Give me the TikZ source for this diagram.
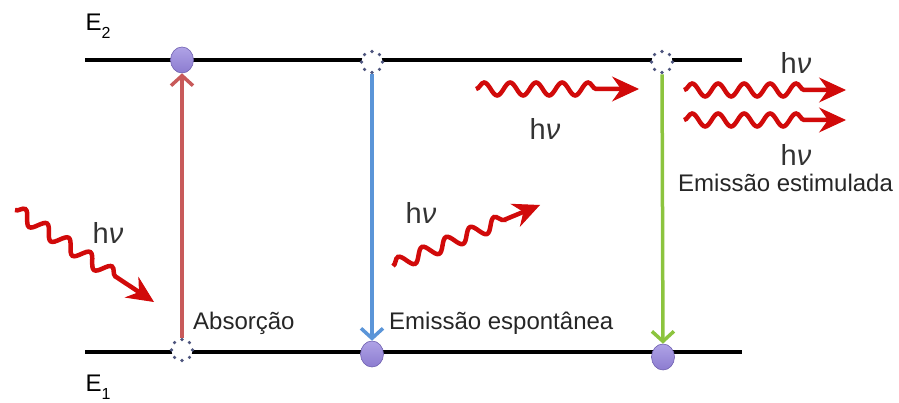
\documentclass[tikz,border=0pt]{standalone}
\usepackage{fontspec}
\setmainfont{Liberation Sans}
\usetikzlibrary{arrows.meta,decorations.pathmorphing,shapes.geometric,calc}
\definecolor{wavered}{HTML}{D10A0A}
\definecolor{absred}{HTML}{C85A5A}
\definecolor{spblue}{HTML}{5B95D8}
\definecolor{stgreen}{HTML}{8CC43E}
\definecolor{atomfill}{HTML}{8C7CD0}
\definecolor{atomtop}{HTML}{AFA3E6}
\definecolor{atomedge}{HTML}{6F60B0}
\definecolor{dotcol}{HTML}{4E557E}
\tikzset{
  level/.style={line width=4pt, black},
  atomfull/.style={ellipse, minimum width=23pt, minimum height=26pt, inner sep=0pt,
    top color=atomtop, bottom color=atomfill, draw=atomedge, line width=0.6pt},
  atomempty/.style={circle, minimum size=21pt, inner sep=0pt, fill=white,
    draw=dotcol, line width=3.6pt, line cap=round, dash pattern=on 0pt off 8.2pt},
  transarrow/.style={line width=3.5pt, -{Straight Barb[length=10pt,width=22pt,line width=3.5pt]}},
  photon/.style={wavered, line width=4.5pt,
    decorate, decoration={snake, amplitude=6.5pt, segment length=26pt, post length=26pt}},
  photonhead/.style={wavered, line width=1pt, -{Stealth[length=27pt,width=25pt,inset=9pt]}},
  lbl/.style={font=\fontsize{24}{28}\selectfont, text=black!85, inner sep=0pt, anchor=west},
  hnu/.style={font=\fontsize{29}{32}\selectfont, text=black!80, inner sep=0pt},
  elev/.style={font=\fontsize{24}{27}\selectfont, inner sep=0pt}
}
\newcommand{\photonarrow}[2]{%
  \draw[photon] (#1) -- ($(#2)!8pt!(#1)$);
  \draw[photonhead] ($(#2)!14pt!(#1)$) -- (#2);
}
\begin{document}
\begin{tikzpicture}[x=1pt,y=-1pt]
\useasboundingbox (0,0) rectangle (899,403);
% energy levels
\coordinate (L2a) at (85,60);
\coordinate (L2b) at (742,60);
\coordinate (L1a) at (85,352);
\coordinate (L1b) at (742,352);
\draw[level] (L2a) -- (L2b);
\draw[level] (L1a) -- (L1b);
\node[elev] (E2) at (98,26) {E\raisebox{-0.35em}{\fontsize{16}{16}\selectfont 2}};
\node[elev] (E1) at (98,387) {E\raisebox{-0.35em}{\fontsize{16}{16}\selectfont 1}};
% atoms
\node[atomfull] (a1t) at (182,60) {};
\node[atomempty] (a1b) at (182,350) {};
\node[atomempty] (a2t) at (372,62) {};
\node[atomfull] (a2b) at (372,354) {};
\node[atomempty] (a3t) at (662,62) {};
\node[atomfull] (a3b) at (663,357) {};
% transitions
\draw[transarrow, absred] (a1b) -- (a1t);
\draw[transarrow, spblue] (a2t) -- (a2b);
\draw[transarrow, stgreen] (a3t) -- (a3b);
% photons
\coordinate (w1s) at (15,210);
\coordinate (w1e) at (154,302);
\coordinate (w2s) at (393,266);
\coordinate (w2e) at (540,205);
\coordinate (w3s) at (476,89);
\coordinate (w3e) at (639,89);
\coordinate (w4s) at (684,90);
\coordinate (w4e) at (846,90);
\coordinate (w5s) at (684,120);
\coordinate (w5e) at (846,120);
\photonarrow{w1s}{w1e}
\photonarrow{w2s}{w2e}
\photonarrow{w3s}{w3e}
\photonarrow{w4s}{w4e}
\photonarrow{w5s}{w5e}
% h nu labels
\node[hnu] (h1) at (108,233) {h{\itshape ν}};
\node[hnu] (h2) at (421,213) {h{\itshape ν}};
\node[hnu] (h3) at (545,129) {h{\itshape ν}};
\node[hnu] (h4) at (796,63) {h{\itshape ν}};
\node[hnu] (h5) at (796,155) {h{\itshape ν}};
% process labels
\node[lbl] (t1) at (193,323) {Absorção};
\node[lbl] (t2) at (389,323) {Emissão espontânea};
\node[lbl] (t3) at (678,183) {Emissão estimulada};
\end{tikzpicture}
\end{document}
